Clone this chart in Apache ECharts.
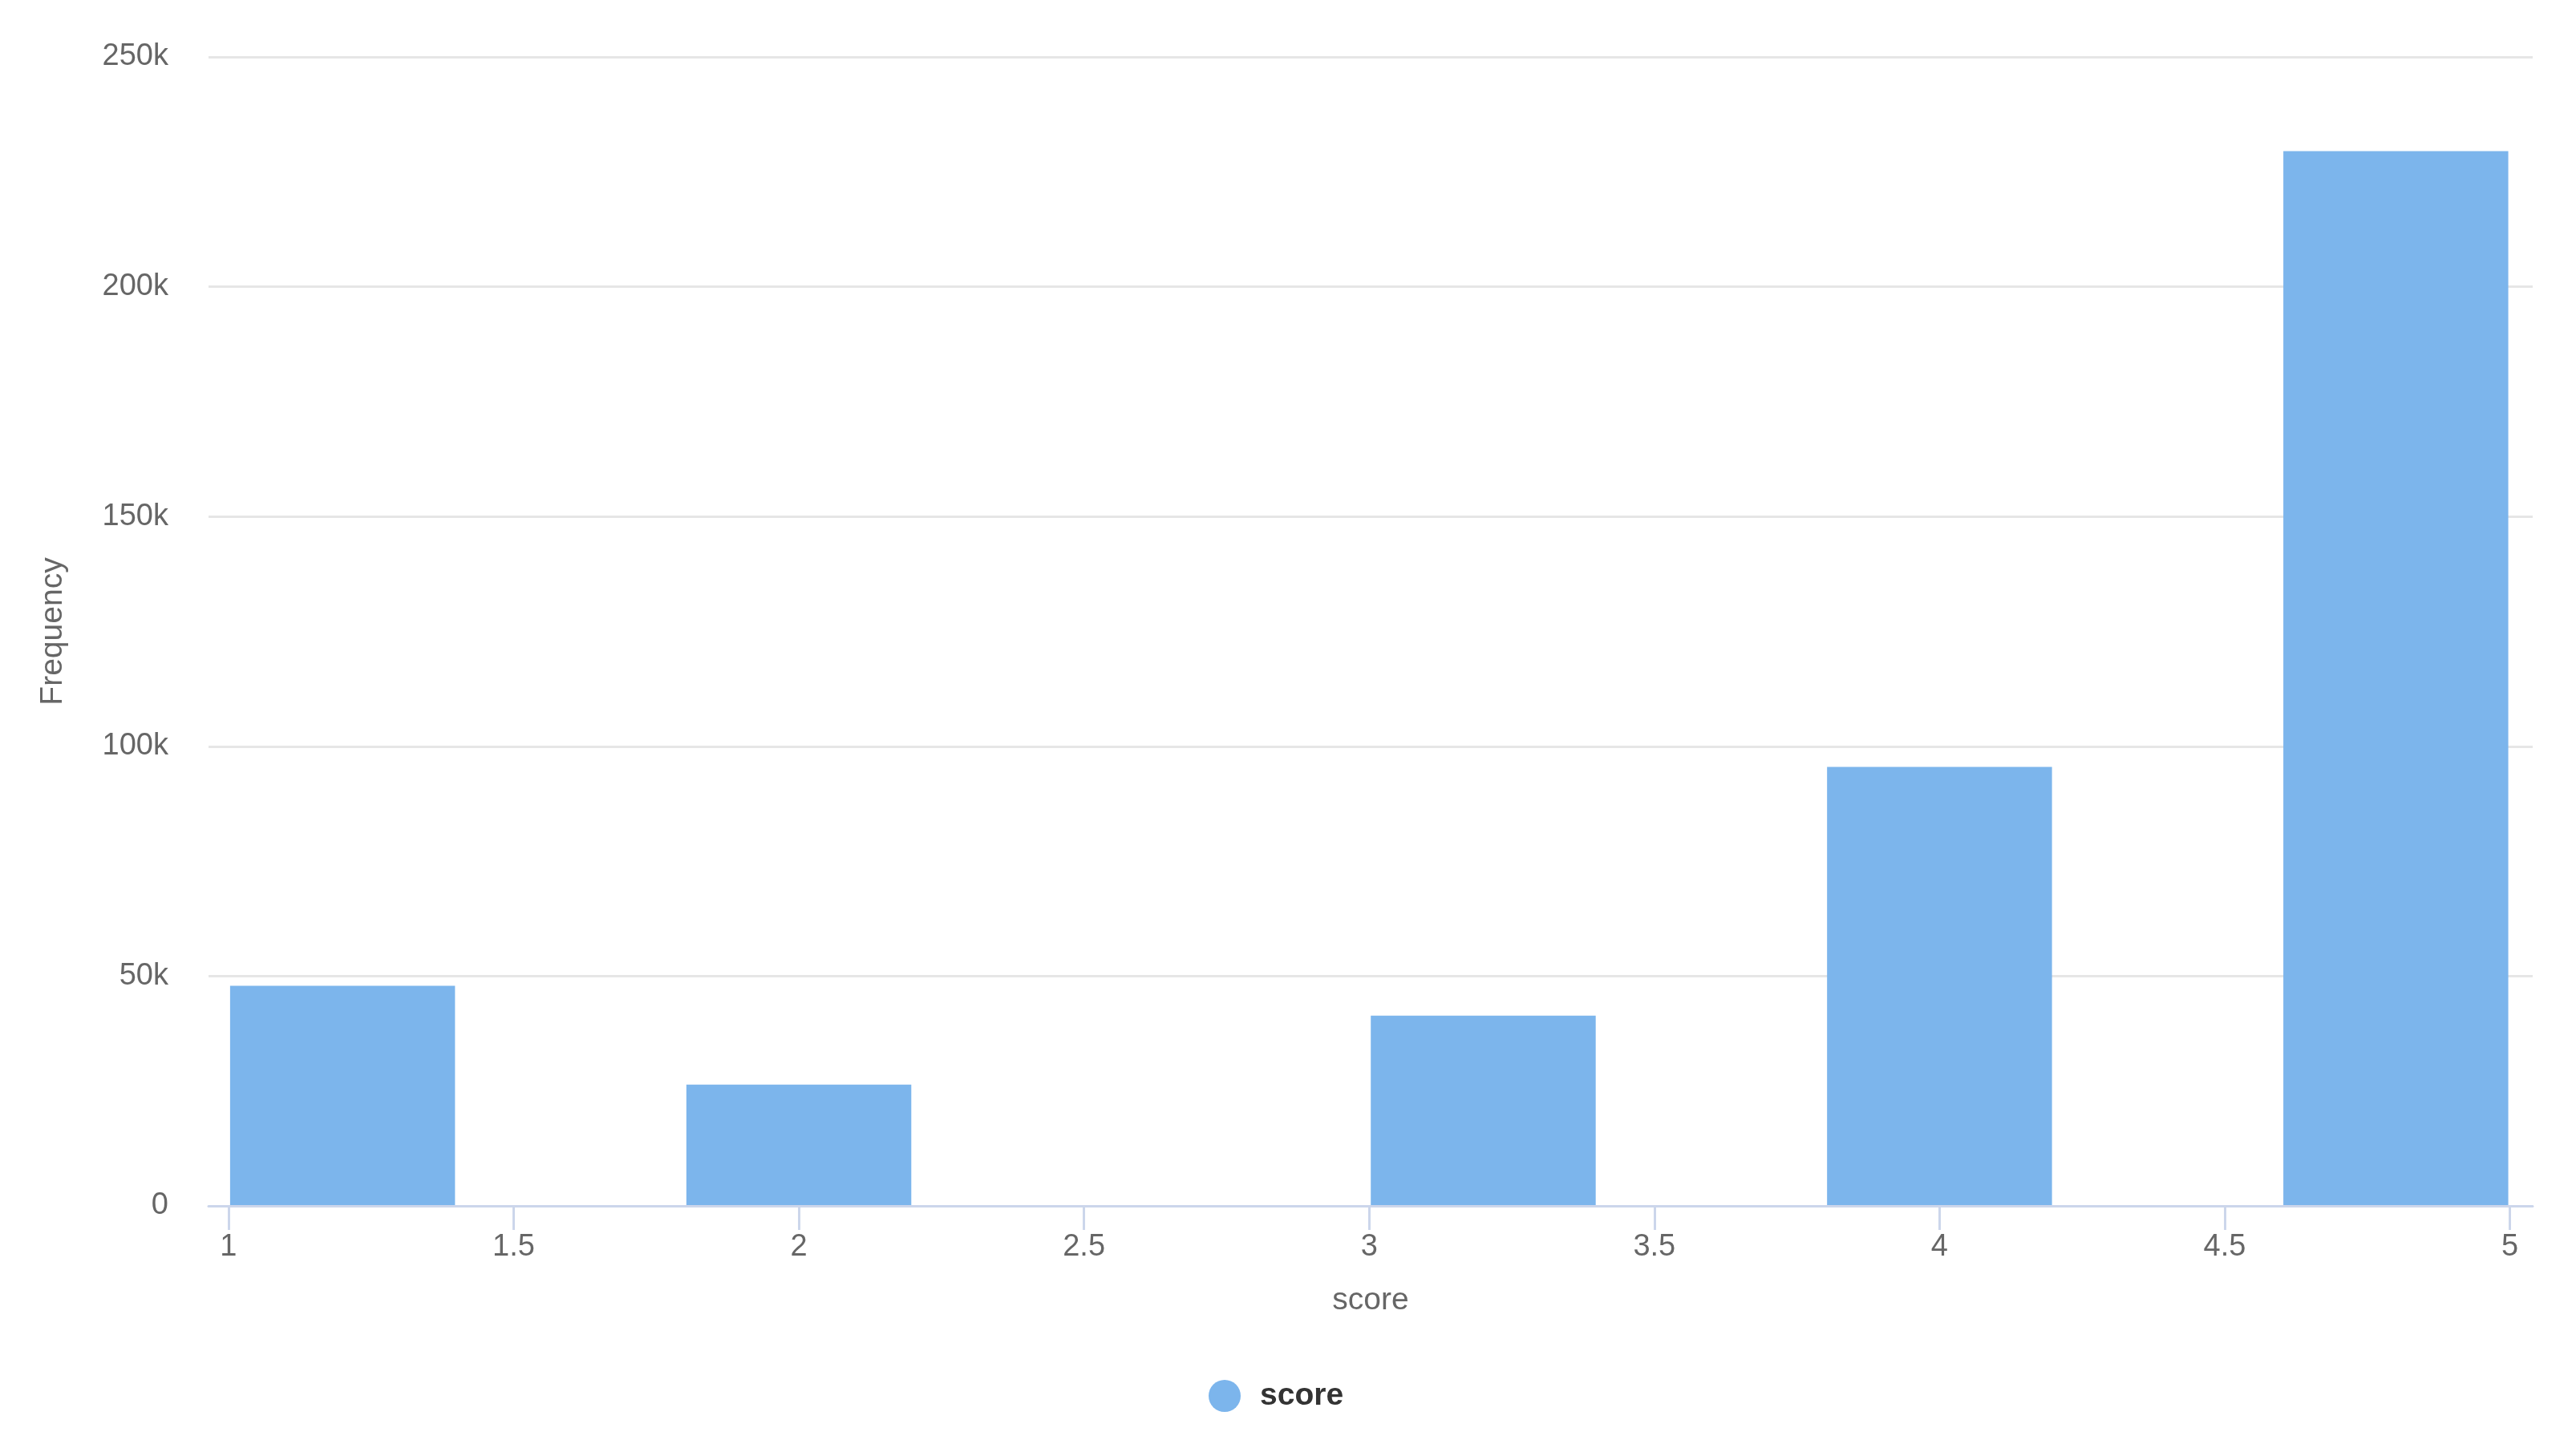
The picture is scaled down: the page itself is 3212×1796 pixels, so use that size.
<!DOCTYPE html>
<html>
<head>
<meta charset="utf-8">
<title>score histogram</title>
<script src="https://cdn.jsdelivr.net/npm/echarts@6/dist/echarts.min.js"></script>
<style>
  html, body { margin: 0; padding: 0; background: #fff; }
  #main { width: 3212px; height: 1796px; }
</style>
</head>
<body>
<div id="main"></div>
<script>
// 直方图分箱（左右边界）和频数
const binStart = [1.0, 1.4, 1.8, 2.2, 2.6, 3.0, 3.4, 3.8, 4.2, 4.6];
const binEnd   = [1.4, 1.8, 2.2, 2.6, 3.0, 3.4, 3.8, 4.2, 4.6, 5.0];
const counts   = [47900, 0, 26400, 0, 0, 41400, 0, 95500, 0, 229500];

// 坐标轴刻度
const xTicks = [1, 1.5, 2, 2.5, 3, 3.5, 4, 4.5, 5];
const yTicks = [0, 50000, 100000, 150000, 200000, 250000];

const FONT = '"Liberation Sans", Arial, sans-serif';

let chart = echarts.init(document.getElementById('main'));

// 组装 custom series 的数据：[起点, 终点, 频数]
let histData = binStart.map(function (s, i) {
  return [s, binEnd[i], counts[i]];
});

function renderBin(params, api) {
  if (!api.value(2)) return null;
  let topLeft = api.coord([api.value(0), api.value(2)]);
  let bottomRight = api.coord([api.value(1), 0]);
  let inset = 2; // 柱子之间留白边
  return {
    type: 'rect',
    shape: {
      x: topLeft[0] + inset,
      y: topLeft[1],
      width: bottomRight[0] - topLeft[0] - inset * 2,
      height: bottomRight[1] - topLeft[1] - 1
    },
    style: api.style()
  };
}

let option = {
  backgroundColor: '#ffffff',
  animation: false,
  grid: {
    left: 260,
    right: 54,
    top: 71,
    bottom: 292
  },
  legend: {
    data: ['score'],
    icon: 'circle',
    left: 1502,
    top: 1716,
    itemWidth: 40,
    itemHeight: 40,
    textStyle: {
      color: '#333333',
      fontWeight: 'bold',
      fontSize: 39,
      fontFamily: FONT,
      padding: [0, 0, 0, 19]
    }
  },
  xAxis: {
    type: 'value',
    min: 0.965,
    max: 5.04,
    name: 'score',
    nameLocation: 'middle',
    nameGap: 99,
    nameTextStyle: { color: '#666666', fontSize: 39, fontFamily: FONT },
    axisLine: { show: true, lineStyle: { color: '#ccd6eb', width: 3 } },
    axisTick: {
      show: true,
      length: 30,
      customValues: xTicks,
      lineStyle: { color: '#ccd6eb', width: 3 }
    },
    axisLabel: {
      customValues: xTicks,
      margin: 33,
      color: '#666666',
      fontSize: 38,
      fontFamily: FONT
    },
    splitLine: { show: false }
  },
  yAxis: {
    type: 'value',
    min: yTicks[0],
    max: yTicks[yTicks.length - 1],
    interval: yTicks[1] - yTicks[0],
    name: 'Frequency',
    nameLocation: 'middle',
    nameGap: 174,
    nameTextStyle: { color: '#666666', fontSize: 39, fontFamily: FONT },
    axisLine: { show: false },
    axisTick: { show: false },
    axisLabel: {
      margin: 50,
      color: '#666666',
      fontSize: 38,
      fontFamily: FONT,
      padding: [8, 0, 0, 0],
      formatter: function (v) {
        return v === 0 ? '0' : (v / 1000) + 'k';
      }
    },
    splitLine: { lineStyle: { color: '#e6e6e6', width: 3 } }
  },
  series: [{
    name: 'score',
    type: 'custom',
    renderItem: renderBin,
    itemStyle: { color: '#7cb5ec' },
    encode: { x: [0, 1], y: 2 },
    data: histData
  }]
};

chart.setOption(option);
window.onresize = chart.resize;
</script>
</body>
</html>
